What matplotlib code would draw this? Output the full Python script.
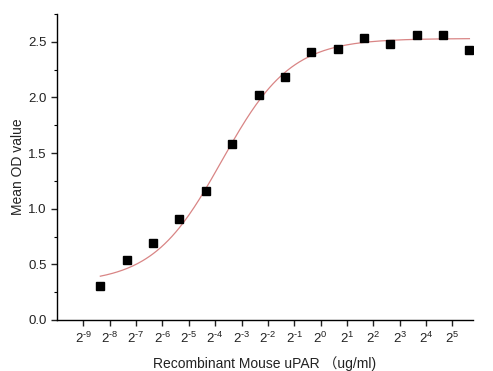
import numpy as np
import matplotlib
matplotlib.use("Agg")
import matplotlib.pyplot as plt
from matplotlib.ticker import FixedLocator, MultipleLocator

# Data: concentrations (ug/ml) and mean OD values
conc = [50 / 2**k for k in range(14, -1, -1)]
od = [0.31, 0.54, 0.695, 0.91, 1.16, 1.585, 2.02, 2.18, 2.41, 2.435,
      2.535, 2.48, 2.56, 2.56, 2.43]

# 4PL fit parameters
fit_bottom = 0.33
fit_top = 2.53
fit_x0 = 0.0743
fit_p = 1.1

xtick_exps = list(range(-9, 6))
yticks = [0.0, 0.5, 1.0, 1.5, 2.0, 2.5]

plt.rcParams['font.family'] = ['Liberation Sans', 'Noto Sans CJK SC', 'DejaVu Sans']
plt.rcParams['mathtext.fontset'] = 'custom'
plt.rcParams['mathtext.rm'] = 'Liberation Sans'
plt.rcParams['mathtext.it'] = 'Liberation Sans'
plt.rcParams['axes.unicode_minus'] = False

fig = plt.figure(figsize=(4.93, 3.71), dpi=100)
ax = fig.add_axes([57/493, 1 - 320/371, (473-57)/493, (320-14)/371])

xs = np.logspace(np.log2(conc[0]), np.log2(conc[-1]), 300, base=2)
ys = fit_top + (fit_bottom - fit_top) / (1 + (xs / fit_x0) ** fit_p)
ax.plot(xs, ys, color='#d98585', lw=0.9, zorder=2)
ax.plot(conc, od, 's', color='black', ms=5.6, zorder=3)

ax.set_xscale('log', base=2)
ax.set_xlim(2**-10, 2**5.78)
ax.set_ylim(0, 2.75)

def exp_label(e):
    s = str(e).replace('-', '\u2010')
    return r'$\mathregular{2^{%s}}$' % s

ax.xaxis.set_major_locator(FixedLocator([2.0**e for e in xtick_exps]))
ax.xaxis.set_minor_locator(FixedLocator([]))
ax.set_xticklabels([exp_label(e) for e in xtick_exps])
ax.set_yticks(yticks)
ax.yaxis.set_minor_locator(MultipleLocator(0.25))

for s in ['top', 'right']:
    ax.spines[s].set_visible(False)
for s in ['left', 'bottom']:
    ax.spines[s].set_linewidth(1.0)

ax.tick_params(axis='both', which='major', direction='out', length=4, width=1,
               color='#222222', labelcolor='#222222')
ax.tick_params(axis='y', which='major', labelsize=9.5)
ax.tick_params(axis='x', which='major', labelsize=9.5, pad=4)
ax.tick_params(axis='y', which='minor', direction='out', length=2.5, width=0.8)

ax.set_xlabel('Recombinant Mouse uPAR （ug/ml)', fontsize=10, color='#222222', labelpad=7)
ax.set_ylabel('Mean OD value', fontsize=10, color='#222222', labelpad=2)

fig.savefig('out.png', dpi=100)
